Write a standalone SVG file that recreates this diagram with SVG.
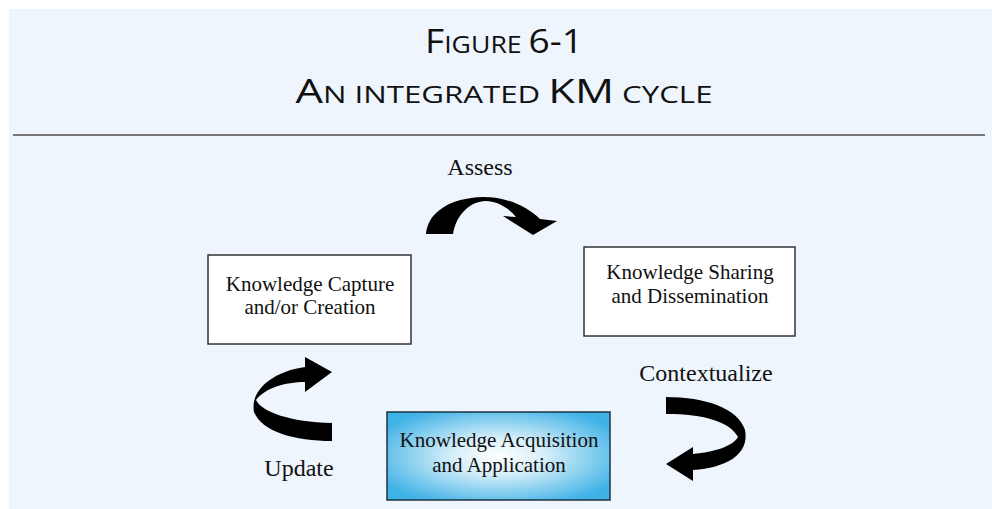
<svg xmlns="http://www.w3.org/2000/svg" width="992" height="509" viewBox="0 0 992 509">
  <defs>
    <radialGradient id="blueGrad" cx="50%" cy="50%" r="60%">
      <stop offset="0" stop-color="#FFFFFF"/>
      <stop offset="0.35" stop-color="#D6EEF9"/>
      <stop offset="1" stop-color="#3FB2E6"/>
    </radialGradient>
  </defs>
  <style>
    .title { font-family: "Open Sans", "Lato", sans-serif; fill: #111; }
    .lbl { font-family: "Liberation Serif", "Times New Roman", serif; font-size: 24px; fill: #111; }
    .ntext { font-family: "Liberation Serif", "Times New Roman", serif; font-size: 21px; fill: #111; text-anchor: middle; }
    .box { fill: #FFFFFF; stroke: #333333; stroke-width: 1.5; }
    .arrow { fill: #000000; stroke: none; }
  </style>
  <rect x="9" y="9" width="983" height="500" fill="#EEF5FC"/>
  <g id="title">
    <text class="title" x="504" y="53" text-anchor="middle" textLength="158" lengthAdjust="spacingAndGlyphs"><tspan font-size="32">F</tspan><tspan font-size="23">IGURE </tspan><tspan font-size="32">6-1</tspan></text>
    <text class="title" x="504" y="103" text-anchor="middle" textLength="417" lengthAdjust="spacingAndGlyphs"><tspan font-size="32">A</tspan><tspan font-size="23">N INTEGRATED </tspan><tspan font-size="32">KM</tspan><tspan font-size="23"> CYCLE</tspan></text>
    <line x1="13" y1="135" x2="985" y2="135" stroke="#777777" stroke-width="2"/>
  </g>
  <g id="node-capture">
    <rect class="box" x="208" y="255" width="203" height="89"/>
    <text class="ntext" x="310" y="291">Knowledge Capture</text>
    <text class="ntext" x="310" y="314">and/or Creation</text>
  </g>
  <g id="node-sharing">
    <rect class="box" x="584" y="247" width="211" height="89"/>
    <text class="ntext" x="690" y="279">Knowledge Sharing</text>
    <text class="ntext" x="690" y="303">and Dissemination</text>
  </g>
  <g id="node-acquisition">
    <rect x="387" y="412" width="223" height="88" fill="url(#blueGrad)" stroke="#1E3344" stroke-width="1.5"/>
    <text class="ntext" x="499" y="447">Knowledge Acquisition</text>
    <text class="ntext" x="499" y="472">and Application</text>
  </g>
  <g id="connectors">
    <g id="assess">
      <path class="arrow" d="M 426,234 C 428,212 450,198 483,197 C 508,197 527,207 540,219 L 557,221 L 533,235 L 503,216 L 516,217 C 508,207 496,201 486,201 C 470,201 456,215 453,234 Z"/>
      <text class="lbl" x="480" y="175" text-anchor="middle">Assess</text>
    </g>
    <g id="contextualize">
      <path class="arrow" d="M 666,397 C 705,397 738,408 745,430 C 750,455 725,468 693,470 L 693,481 L 666,464 L 693,447 L 693,454 C 715,452 733,446 738,437 C 730,422 705,414 666,414 Z"/>
      <text class="lbl" x="706" y="381" text-anchor="middle">Contextualize</text>
    </g>
    <g id="update">
      <path class="arrow" d="M 332,441 C 295,441 262,432 254,412 C 250,392 270,372 305,367 L 305,357 L 332,372 L 305,392 L 305,382 C 285,382 265,388 256,400 C 262,412 290,422 332,423 Z"/>
      <text class="lbl" x="299" y="476" text-anchor="middle">Update</text>
    </g>
  </g>
</svg>
